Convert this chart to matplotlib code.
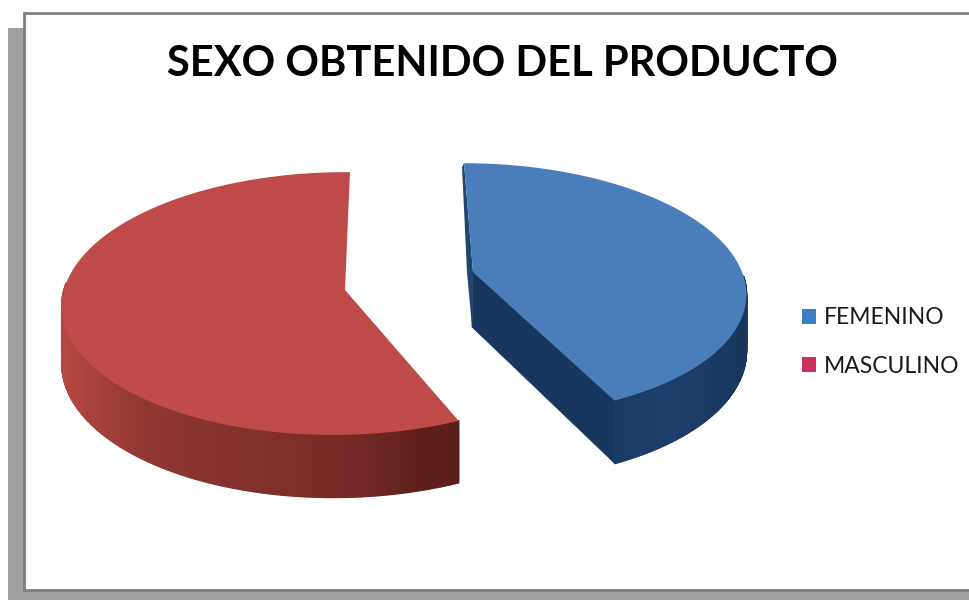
import numpy as np
import matplotlib
matplotlib.use('Agg')
from matplotlib import pyplot as plt
from matplotlib.collections import PolyCollection
from matplotlib.colors import LinearSegmentedColormap
from matplotlib.patches import Patch, Polygon, Rectangle

title = 'SEXO OBTENIDO DEL PRODUCTO'
labels = ['FEMENINO', 'MASCULINO']
values = [43, 57]
top_colors = ['#4a7ebb', '#be4b48']
legend_colors = ['#3c7fc4', '#c8325c']

plt.rcParams['font.family'] = ['Lato', 'DejaVu Sans']

# one pixel per data unit, y pointing down
fig = plt.figure(figsize=(9.69, 6), dpi=100)
ax = fig.add_axes([0, 0, 1, 1])
ax.set_xlim(0, 969)
ax.set_ylim(600, 0)
ax.axis('off')

# drop shadow and white sheet
ax.add_patch(Rectangle((8, 28), 961, 572, fc='#a0a0a0', ec='none'))
ax.add_patch(Rectangle((24, 13), 950, 577, fc='white', ec='#7f7f7f', lw=2))


def project(theta, apex, rx, ry, k, shift=0, depth=0, vanish_x=400):
    # theta in degrees, clockwise from the back of the pie
    t = np.radians(theta + shift)
    u, v = np.sin(t), np.cos(t)
    w = 1 + k * v
    x = vanish_x + (apex[0] - vanish_x + rx * u) / w
    y = apex[1] - ry * v / w + depth / w
    return x, y


def draw_wall(start, end, geom, depth, cmap, x_range):
    thetas = np.linspace(start, end, 160)
    xt, yt = project(thetas, *geom)
    xb, yb = project(thetas, *geom, depth=depth)
    quads = []
    shade = []
    for i in range(len(thetas) - 1):
        quads.append([(xt[i], yt[i]), (xt[i + 1], yt[i + 1]),
                      (xb[i + 1], yb[i + 1]), (xb[i], yb[i])])
        shade.append((xt[i] - x_range[0]) / (x_range[1] - x_range[0]))
    ax.add_collection(PolyCollection(quads, array=np.clip(shade, 0, 1), cmap=cmap,
                                     norm=plt.Normalize(0, 1), edgecolors='face', linewidths=1.2))


def draw_top(start, end, geom, notch, color):
    thetas = np.linspace(start, end, 200)
    xt, yt = project(thetas, *geom)
    pts = [notch] + list(zip(xt, yt))
    ax.add_patch(Polygon(pts, closed=True, fc=color, ec='none'))


# the slices meet at the back of the pie, each pulled out to its own side
angles = np.cumsum([0] + values) / sum(values) * 360
blue_notch = (473, 272)
red_notch = (345, 290)
blue_geom = (blue_notch, 269, 124, 0.14, 0)
red_geom = ((340, 290), 276, 130, 0.103, 1)
blue_depth = 55
red_depth = 56

blue_wall = LinearSegmentedColormap.from_list('bw', ['#1a3a63', '#1c3f6b', '#16365c'])
red_wall = LinearSegmentedColormap.from_list(
    'rw', [(0, '#b5473f'), (0.22, '#8f3734'), (0.72, '#772a27'), (0.9, '#5f201d'), (1, '#5a1e1b')])

# femenino: cut faces, rim, then top
x0, y0 = project(angles[0], *blue_geom)
ax.add_patch(Polygon([(x0, y0), blue_notch, (472, 272 + blue_depth), (467, 272), (x0 - 2, y0 + 4)],
                     fc='#1f4570', ec='none'))
x1, y1 = project(angles[1], *blue_geom)
x1b, y1b = project(angles[1], *blue_geom, depth=blue_depth)
ax.add_patch(Polygon([blue_notch, (x1, y1), (x1b, y1b), (472, 272 + blue_depth)],
                     fc='#17375e', ec='#17375e', lw=0.5))
draw_wall(angles[0] + 92, angles[1], blue_geom, blue_depth, blue_wall, (600, 746))
draw_top(angles[0], angles[1], blue_geom, blue_notch, top_colors[0])

# masculino
draw_wall(angles[1], angles[2] - 88, red_geom, red_depth, red_wall, (62, 462))
draw_top(angles[1], angles[2], red_geom, red_notch, top_colors[1])

ax.text(503, 64, title, ha='center', va='center', fontsize=30, fontweight='bold', color='black')

handles = [Patch(fc=c, ec='none') for c in legend_colors]
ax.legend(handles, labels, loc='center left', bbox_to_anchor=(802, 342),
          bbox_transform=ax.transData, frameon=False, fontsize=16.5,
          handlelength=0.62, handleheight=0.62, handletextpad=0.35, labelspacing=1.2,
          borderpad=0, borderaxespad=0, labelcolor='#1a1a1a')

fig.savefig('out.png', dpi=100)
